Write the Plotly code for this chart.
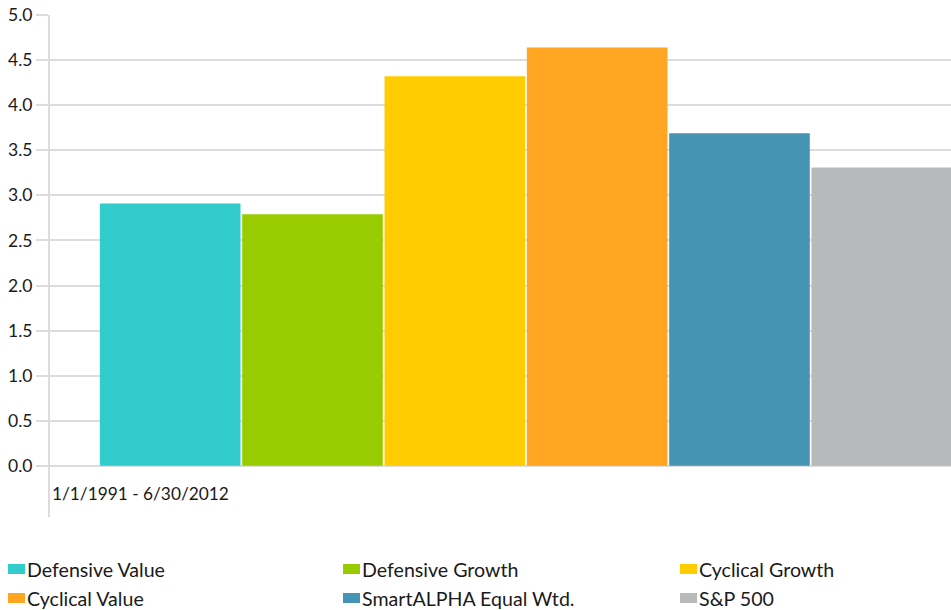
import plotly.graph_objects as go

# Series data
series_names = ["Defensive Value", "Defensive Growth", "Cyclical Growth",
                "Cyclical Value", "SmartALPHA Equal Wtd.", "S&P 500"]
series_values = [2.91, 2.79, 4.32, 4.64, 3.69, 3.31]
series_colors = ["#33CCCC", "#99CC00", "#FFCC00", "#FFA522", "#4594B3", "#B7BABB"]
period_label = "1/1/1991 - 6/30/2012"
y_ticks = [0.0, 0.5, 1.0, 1.5, 2.0, 2.5, 3.0, 3.5, 4.0, 4.5, 5.0]

FONT = "Lato, 'Open Sans', sans-serif"
GRID = "#dcdcdc"
W, H = 951, 610
ML, MR, MT, MB = 50, 0, 15, 93

fig = go.Figure()
for name, val, col in zip(series_names, series_values, series_colors):
    fig.add_trace(go.Bar(x=[0], y=[val], name=name, marker_color=col,
                         marker_line_width=0, showlegend=False,
                         hoverinfo="name+y"))

fig.update_layout(
    width=W, height=H,
    margin=dict(l=ML, r=MR, t=MT, b=MB, autoexpand=False),
    paper_bgcolor="white", plot_bgcolor="white",
    barmode="group", bargap=0.0, bargroupgap=0.012,
    font=dict(family=FONT, size=16, color="#1a1a1a"),
    xaxis=dict(range=[-0.5574, 0.4977], showticklabels=False, showgrid=False,
               zeroline=False, showline=False, ticks="", fixedrange=True),
    yaxis=dict(range=[-0.567, 5.0], tickvals=y_ticks,
               ticktext=[f"{v:.1f}" for v in y_ticks],
               showgrid=True, gridcolor=GRID, gridwidth=2,
               zeroline=False, showline=True, linecolor=GRID, linewidth=2,
               ticks="outside", ticklen=12, tickcolor=GRID, tickwidth=2,
               tickfont=dict(family=FONT, size=17.5, color="#1a1a1a"),
               automargin=False),
)

# Category label under the axis
fig.add_annotation(x=0, xref="paper", xanchor="left", y=-0.31, yref="y",
                   yanchor="middle", text=period_label, showarrow=False,
                   font=dict(family=FONT, size=17.3, color="#1a1a1a"))

# Legend laid out as a 3-column grid below the plot
plot_h = H - MT - MB
col_x = [8, 343, 680]
row_y = [569, 598]
for i, (name, col) in enumerate(zip(series_names, series_colors)):
    px = col_x[i % 3]
    py = row_y[i // 3]
    def to_px(xp):
        return (xp - ML) / (W - ML - MR)
    def to_py(yp):
        return (H - MB - yp) / plot_h
    fig.add_shape(type="rect", xref="paper", yref="paper",
                  x0=to_px(px), x1=to_px(px + 17),
                  y0=to_py(py + 5), y1=to_py(py - 5),
                  fillcolor=col, line_width=0)
    fig.add_annotation(x=to_px(px + 17), y=to_py(py), xref="paper", yref="paper",
                       xanchor="left", yanchor="middle", text=name,
                       showarrow=False,
                       font=dict(family=FONT, size=19.6, color="#1a1a1a"))

fig.write_html("out.html")
